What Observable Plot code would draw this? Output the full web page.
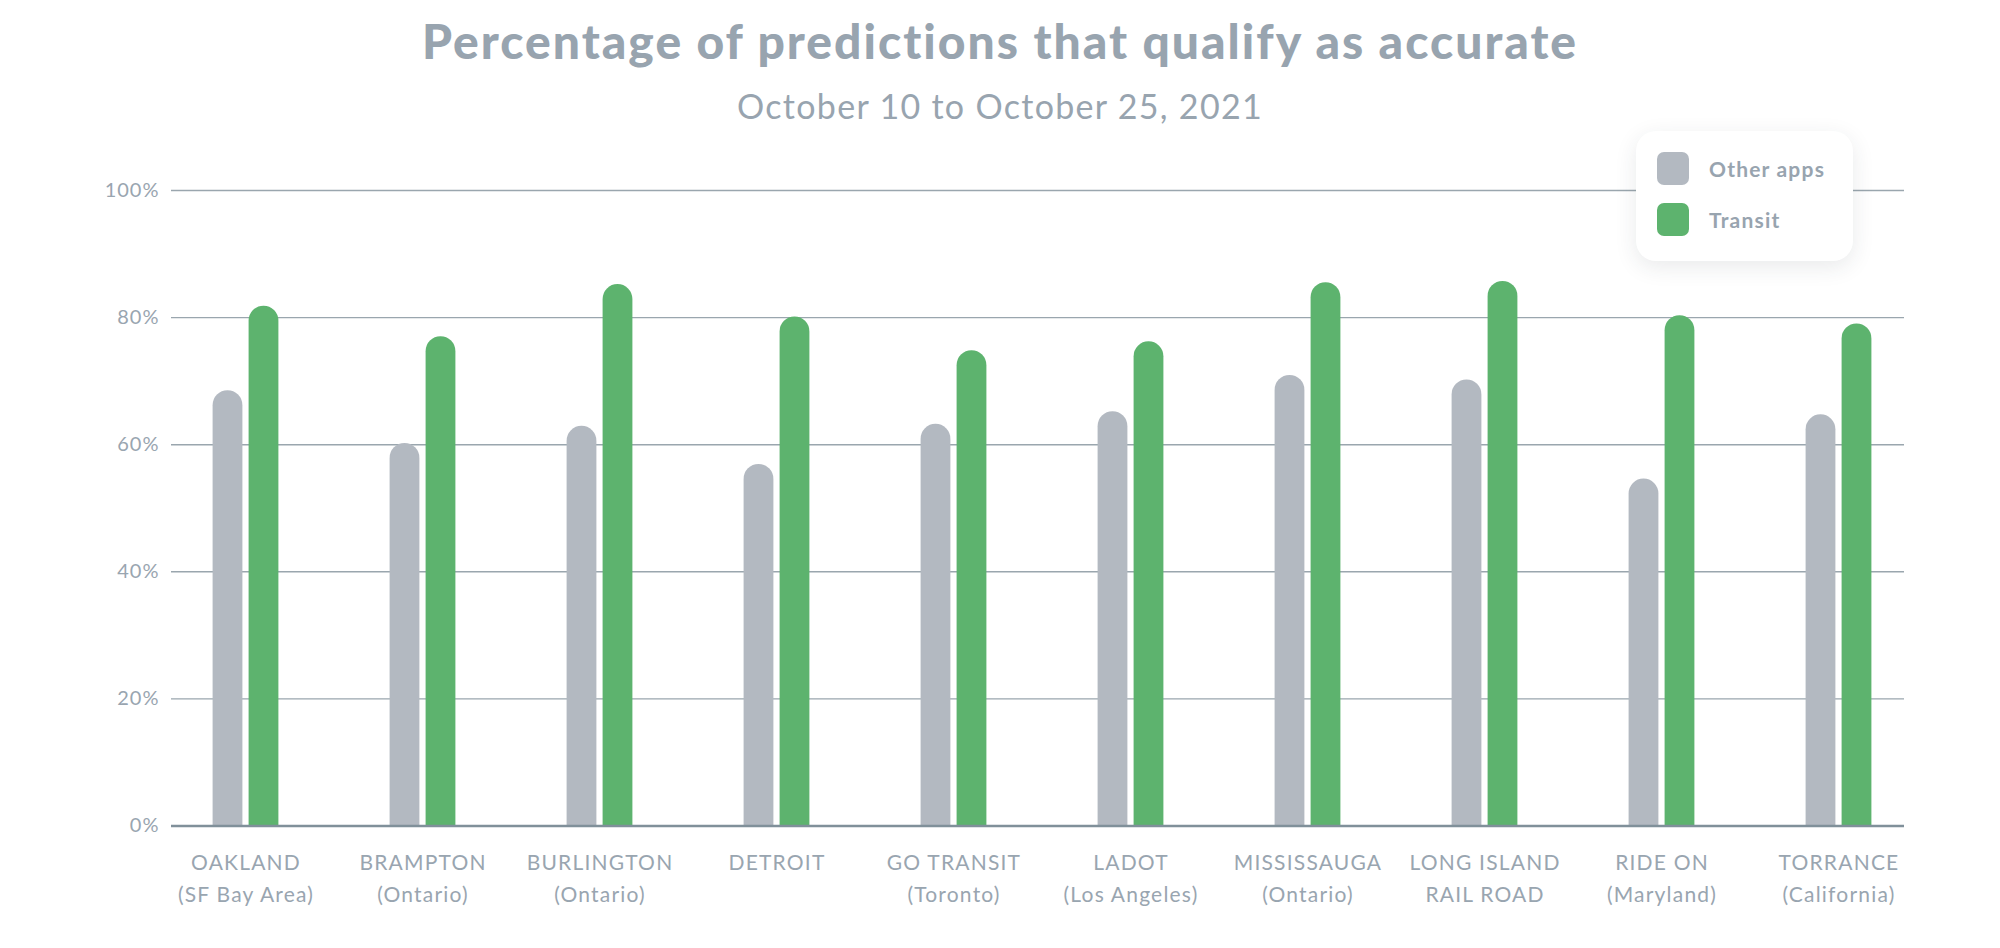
<!DOCTYPE html>
<html>
<head>
<meta charset="utf-8">
<script src="https://cdn.jsdelivr.net/npm/d3@7"></script>
<script src="https://cdn.jsdelivr.net/npm/@observablehq/plot@0.6"></script>
<style>
  html, body { margin: 0; padding: 0; background: #fff; }
  #wrap { position: relative; width: 2000px; height: 948px; overflow: hidden; font-family: Lato, "Noto Sans", sans-serif; color: #99a5b0; }
  #header { position: relative; height: 140px; }
  #title { position: absolute; left: 0; width: 2000px; top: 17px; text-align: center; font-size: 48px; line-height: 48px; font-weight: 900; letter-spacing: 2px; color: #98a4af; }
  #subtitle { position: absolute; left: 0; width: 2000px; top: 89px; text-align: center; font-size: 34px; line-height: 34px; font-weight: 400; letter-spacing: 1.3px; color: #98a4af; }
  #legend { position: absolute; left: 1636px; top: 131px; width: 217px; height: 130px; background: #fff; border-radius: 20px; box-shadow: 0 6px 22px rgba(40,50,60,0.10); box-sizing: border-box; }
  .item { position: absolute; left: 21px; height: 33px; display: flex; align-items: center; }
  .sw { width: 32px; height: 33px; border-radius: 7px; margin-right: 20px; }
  .lab { font-size: 21px; font-weight: 700; letter-spacing: 1.2px; color: #98a4af; }
  #chart { position: absolute; left: 0; top: 140px; }
</style>
</head>
<body>
<div id="wrap">
  <div id="header">
    <div id="title">Percentage of predictions that qualify as accurate</div>
    <div id="subtitle">October 10 to October 25, 2021</div>
  </div>
  <div id="chart"></div>
  <div id="legend"></div>
</div>
<script>
const cityNames = ["OAKLAND", "BRAMPTON", "BURLINGTON", "DETROIT", "GO TRANSIT", "LADOT", "MISSISSAUGA", "LONG ISLAND", "RIDE ON", "TORRANCE"];
const citySubs = ["(SF Bay Area)", "(Ontario)", "(Ontario)", "", "(Toronto)", "(Los Angeles)", "(Ontario)", "RAIL ROAD", "(Maryland)", "(California)"];
const otherApps = [68.5, 60.2, 62.9, 56.9, 63.2, 65.2, 70.9, 70.2, 54.6, 64.7];
const transitApp = [81.8, 77.0, 85.2, 80.1, 74.8, 76.2, 85.5, 85.7, 80.3, 79.0];
const seriesNames = ["Other apps", "Transit"];
const seriesColors = ["#b3b9c1", "#5db36e"];
const yTicks = [0, 20, 40, 60, 80, 100];

const labels = cityNames.map((c, i) => citySubs[i] ? c + "\n" + citySubs[i] : c);
const data = [];
labels.forEach((l, i) => {
  data.push({city: l, series: seriesNames[0], value: otherApps[i]});
  data.push({city: l, series: seriesNames[1], value: transitApp[i]});
});
const grayData = data.filter(d => d.series === seriesNames[0]);
const greenData = data.filter(d => d.series === seriesNames[1]);

const W = 2000, H = 808;
const bandHalf = (W - 156 - 72) / labels.length / 2;
const barW = 30, gap = 3;
const inGrayL = bandHalf - gap - barW, inGrayR = bandHalf + gap;
const inGreenL = bandHalf + gap, inGreenR = bandHalf - gap - barW;
const textColor = "#99a5b0";

// rounded bars extended below the baseline and clipped to the frame -> square bottoms
const barsFor = (arr, color, il, ir) =>
  Plot.barY(arr, {x: "city", y1: -8, y2: "value", fill: color, insetLeft: il, insetRight: ir, rx: barW / 2, clip: true});

const chart = Plot.plot({
  width: W,
  height: H,
  marginTop: 50,
  marginBottom: 122.5,
  marginLeft: 156,
  marginRight: 72,
  style: {fontFamily: "Lato, 'Noto Sans', sans-serif", background: "transparent", color: textColor},
  x: {domain: labels, padding: 0, axis: null},
  y: {domain: [0, 100], axis: null},
  marks: [
    Plot.ruleY(yTicks.filter(t => t > 0), {stroke: "#9aa6ae", strokeWidth: 1.4, insetLeft: 15, insetRight: 24}),
    barsFor(grayData, seriesColors[0], inGrayL, inGrayR),
    barsFor(greenData, seriesColors[1], inGreenL, inGreenR),
    Plot.ruleY([0], {stroke: "#80909a", strokeWidth: 2.5, insetLeft: 15, insetRight: 24}),
    Plot.text(yTicks, {y: d => d, text: d => d + "%", frameAnchor: "left", textAnchor: "end", dx: 3, fontSize: 20, fill: textColor, fontWeight: 400}),
    Plot.axisX({tickSize: 0, tickPadding: 22, fontSize: 21, lineHeight: 1.5, fill: textColor, label: null})
  ]
});
document.getElementById("chart").appendChild(chart);
d3.select(chart).selectAll('g[aria-label="x-axis tick label"] text').style("letter-spacing", "1.2px");
d3.select(chart).selectAll('g[aria-label="text"] text').style("letter-spacing", "1px");

const legend = document.getElementById("legend");
seriesNames.forEach((s, i) => {
  const item = document.createElement("div");
  item.className = "item";
  item.style.top = (21 + i * 51) + "px";
  item.innerHTML = `<div class="sw" style="background:${seriesColors[i]}"></div><div class="lab">${s}</div>`;
  legend.appendChild(item);
});
</script>
</body>
</html>
